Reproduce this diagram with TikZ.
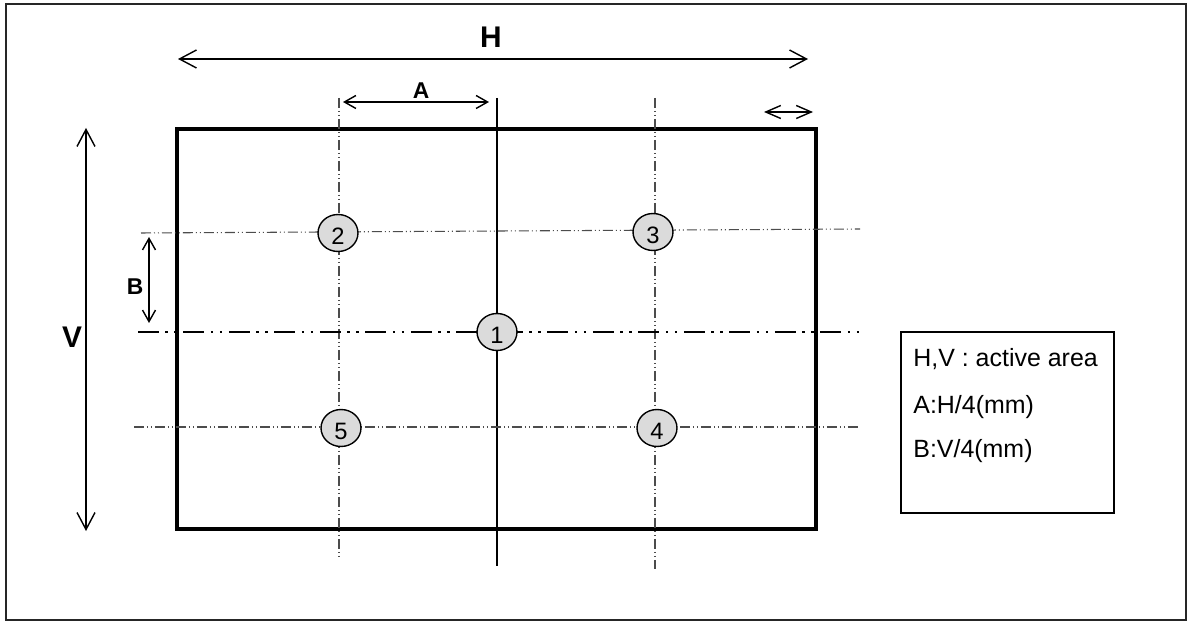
\documentclass[tikz,border=0pt]{standalone}
\usepackage{fontspec}
\setmainfont{Liberation Sans}
\usetikzlibrary{arrows.meta,shapes.geometric}
\tikzset{
  frameline/.style={line width=0.8pt, draw=black!85},
  panel/.style={line width=2pt},
  centreline/.style={line width=1.3pt},
  gridline/.style={line width=0.6pt, draw=black!70, dash pattern=on 0.2cm off 0.06cm on 0.02cm off 0.06cm on 0.02cm off 0.06cm},
  axisline/.style={line width=1.5pt, dash pattern=on 0.42cm off 0.13cm on 0.05cm off 0.13cm on 0.05cm off 0.13cm},
  bigdim/.style={line width=0.8pt, {Straight Barb[length=0.34cm,width=0.36cm]}-{Straight Barb[length=0.34cm,width=0.36cm]}},
  middim/.style={line width=0.8pt, {Straight Barb[length=0.3cm,width=0.26cm]}-{Straight Barb[length=0.3cm,width=0.26cm]}},
  smalldim/.style={line width=0.8pt, {Straight Barb[length=0.23cm,width=0.26cm]}-{Straight Barb[length=0.23cm,width=0.26cm]}},
  spot/.style={ellipse, draw, line width=0.8pt, fill=black!14, minimum width=0.8cm, minimum height=0.74cm, inner sep=0pt, font=\fontsize{13.5}{15}\selectfont, text height=13pt, text depth=0pt},
  dimlabel/.style={font=\bfseries\fontsize{17}{20}\selectfont, inner sep=0pt},
  sublabel/.style={font=\bfseries\fontsize{13}{15}\selectfont, inner sep=0pt},
  legendtext/.style={anchor=base west, inner sep=0pt, font=\fontsize{14.2}{17}\selectfont}
}
\begin{document}
\begin{tikzpicture}[x=0.02cm, y=-0.02cm]
            \useasboundingbox (0,0) rectangle (1192,624);
            \draw[frameline] (6,4) rectangle (1186,620);

            % dimensions
            \draw[bigdim] (178,59) -- (808,59);
            \node[dimlabel] (hlabel) at (491,37) {H};
            \draw[smalldim] (343,102) -- (489,102);
            \node[sublabel] (alabel) at (421,91) {A};
            \draw[middim] (764,112) -- (813,112);
            \draw[bigdim] (86,128) -- (86,531);
            \node[dimlabel] (vlabel) at (72,337) {V};
            \draw[smalldim] (149,237) -- (149,323);
            \node[sublabel] (blabel) at (135,287) {B};

            % active area and grid
            \draw[panel] (177,129) rectangle (816,529);
            \draw[gridline] (339,98) -- (339,559);
            \draw[gridline] (655,98) -- (655,569);
            \draw[centreline] (497,98) -- (497,566);
            \draw[gridline] (141,233) -- (860,229);
            \draw[gridline] (134,427) -- (858,427);
            \draw[axisline] (138,332) -- (861,332);

            \node[spot] (spot1) at (497,332) {1};
            \node[spot] (spot2) at (338,233) {2};
            \node[spot] (spot3) at (653,232) {3};
            \node[spot] (spot4) at (657,428) {4};
            \node[spot] (spot5) at (341,428) {5};

            % legend
            \draw[line width=0.8pt] (901,332) rectangle (1114,513);
            \node[legendtext] (legend1) at (913,367) {H,V : active area};
            \node[legendtext] (legend2) at (913,413) {A:H/4(mm)};
            \node[legendtext] (legend3) at (913,457) {B:V/4(mm)};
        \end{tikzpicture}
\end{document}
